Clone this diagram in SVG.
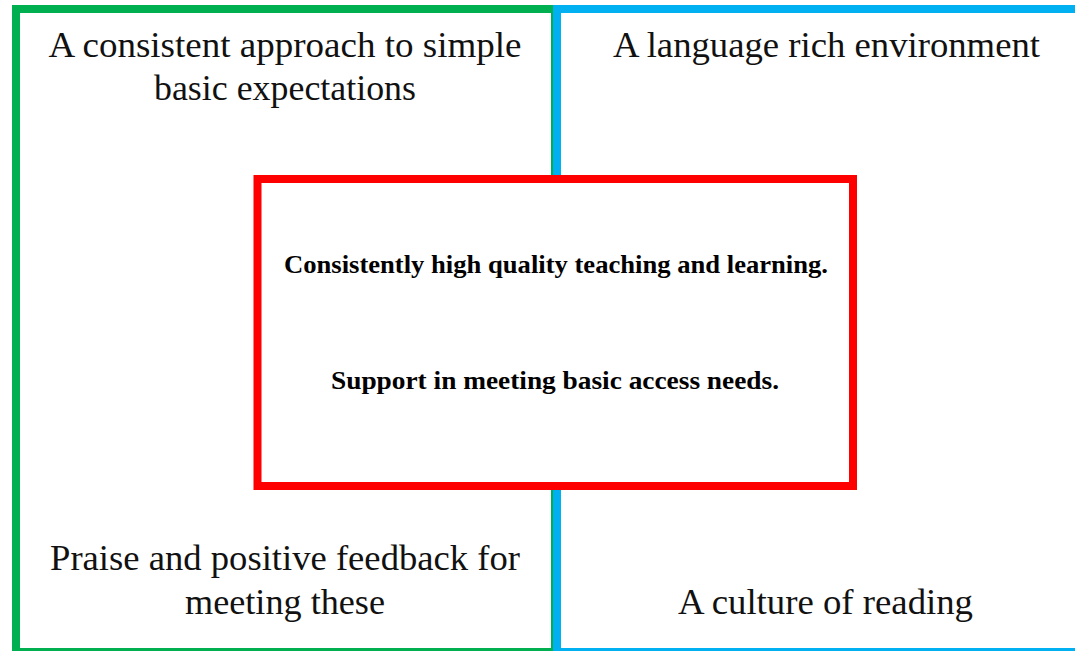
<svg xmlns="http://www.w3.org/2000/svg" width="1075" height="651" viewBox="0 0 1075 651">
<style>
.q{fill:none;stroke-width:8}
.t{font-family:"Liberation Serif","Times New Roman",serif;font-size:36px;fill:#111;text-anchor:middle}
.c{font-family:"Liberation Serif","Times New Roman",serif;font-size:25px;font-weight:bold;fill:#000;text-anchor:middle}
</style>
<rect width="1075" height="651" fill="#fff"/>
<g id="green-quadrant">
<rect class="q" x="16" y="9" width="539" height="643" stroke="#00b050"/>
<text class="t" x="285" y="57" textLength="473" lengthAdjust="spacingAndGlyphs">A consistent approach to simple</text>
<text class="t" x="285" y="100" textLength="262" lengthAdjust="spacingAndGlyphs">basic expectations</text>
<text class="t" x="285" y="570" textLength="470" lengthAdjust="spacingAndGlyphs">Praise and positive feedback for</text>
<text class="t" x="285" y="614" textLength="200" lengthAdjust="spacingAndGlyphs">meeting these</text>
</g>
<g id="blue-quadrant">
<rect class="q" x="557" y="9" width="530" height="643" stroke="#00b0f0"/>
<text class="t" x="826.5" y="57" textLength="427" lengthAdjust="spacingAndGlyphs">A language rich environment</text>
<text class="t" x="825.5" y="614" textLength="295" lengthAdjust="spacingAndGlyphs">A culture of reading</text>
</g>
<g id="connectors"></g>
<g id="center">
<rect x="257.5" y="179" width="595.5" height="307" fill="#fff" stroke="#ff0000" stroke-width="8"/>
<text class="c" x="556" y="273" textLength="544" lengthAdjust="spacingAndGlyphs">Consistently high quality teaching and learning.</text>
<text class="c" x="555" y="389" textLength="448" lengthAdjust="spacingAndGlyphs">Support in meeting basic access needs.</text>
</g>
</svg>
